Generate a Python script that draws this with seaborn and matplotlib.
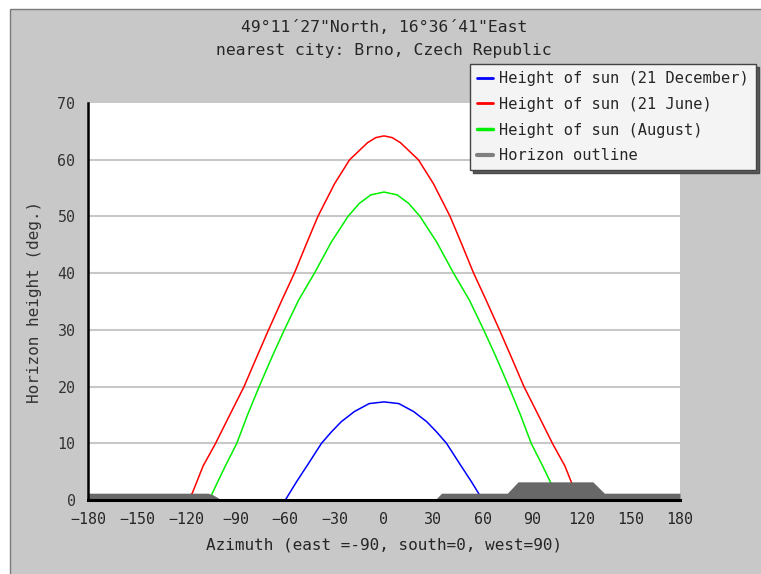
import matplotlib
matplotlib.use("Agg")
import matplotlib.pyplot as plt
from matplotlib.patches import Rectangle
from matplotlib.lines import Line2D
from matplotlib.ticker import MultipleLocator
import seaborn as sns
import pandas as pd

# ---- data ----
june_az = [-120, -116.6, -110, -102.4, -95, -85.1, -78, -70.2, -62, -54.5, -47, -40.2, -30, -20.9, -10, -5, 0,
           5, 10, 20.9, 30, 40.2, 47, 54.5, 62, 70.2, 78, 85.1, 95, 102.4, 110, 116.6, 120]
june_el = [0, 1.2, 6.0, 10, 14.3, 20, 24.8, 30, 35.3, 40, 45.3, 50, 55.8, 60, 63.0, 63.9, 64.2,
           63.9, 63.0, 60, 55.8, 50, 45.3, 40, 35.3, 30, 24.8, 20, 14.3, 10, 6.0, 1.2, 0]

aug_az = [-106, -104.4, -97, -89.5, -83, -75.9, -68, -60.6, -52, -42.3, -32, -21.9, -15, -8, 0,
          8, 15, 21.9, 32, 42.3, 52, 60.6, 68, 75.9, 83, 89.5, 97, 104.4, 106]
aug_el = [0, 1.2, 5.7, 10, 15, 20, 25.3, 30, 35.2, 40, 45.5, 50, 52.3, 53.8, 54.3,
          53.8, 52.3, 50, 45.5, 40, 35.2, 30, 25.3, 20, 15, 10, 5.7, 1.2, 0]

dec_az = [-60, -53, -46, -38, -32, -26, -18, -9, 0, 9, 18, 26, 32, 38, 46, 53, 60]
dec_el = [0, 3.3, 6.4, 10, 12, 13.8, 15.6, 17.0, 17.3, 17.0, 15.6, 13.8, 12, 10, 6.4, 3.3, 0]

hor_az = [-180, -107, -104, -101, -99, 31, 35, 75, 81.5, 127, 134, 180]
hor_el = [1.2, 1.2, 0.9, 0.4, 0, 0, 1.2, 1.2, 3.2, 3.2, 1.2, 1.2]

series_labels = ["Height of sun (21 December)", "Height of sun (21 June)",
                 "Height of sun (August)", "Horizon outline"]
x_ticks = [-180, -150, -120, -90, -60, -30, 0, 30, 60, 90, 120, 150, 180]
y_ticks = [0, 10, 20, 30, 40, 50, 60, 70]
title_lines = ["49°11´27\"North, 16°36´41\"East", "nearest city: Brno, Czech Republic"]
x_label = "Azimuth (east =-90, south=0, west=90)"
y_label = "Horizon height (deg.)"

# ---- style ----
sns.set_style("white")
plt.rcParams["font.family"] = ["DejaVu Sans Mono", "DejaVu Sans"]

W, H = 761, 574
fig = plt.figure(figsize=(W / 100, H / 100), dpi=100)
fig.patch.set_facecolor("white")
bg = Rectangle((10 / W, -0.01), 1.0, (H - 9) / H + 0.01, transform=fig.transFigure,
               facecolor="#c8c8c8", edgecolor="#7a7a7a", lw=1.0, zorder=-10)
fig.add_artist(bg)

ax = fig.add_axes([88 / W, (H - 500) / H, (680 - 88) / W, (500 - 103) / H])
ax.set_facecolor("white")
ax.set_axisbelow(False)

df_dec = pd.DataFrame({"az": dec_az, "el": dec_el})
df_jun = pd.DataFrame({"az": june_az, "el": june_el})
df_aug = pd.DataFrame({"az": aug_az, "el": aug_el})

sns.lineplot(data=df_dec, x="az", y="el", color="#0000ff", lw=1.1, sort=False, estimator=None, ax=ax, zorder=2)
sns.lineplot(data=df_jun, x="az", y="el", color="#ff0000", lw=1.1, sort=False, estimator=None, ax=ax, zorder=2)
sns.lineplot(data=df_aug, x="az", y="el", color="#00ee00", lw=1.1, sort=False, estimator=None, ax=ax, zorder=2)
ax.fill_between(hor_az, 0, hor_el, color="#686868", lw=0, zorder=2.3)

ax.set_xlim(-180, 180)
ax.set_ylim(0, 70)
ax.set_xticks(x_ticks)
ax.set_yticks(y_ticks)
ax.yaxis.set_minor_locator(MultipleLocator(5))
ax.set_xticklabels([str(t).replace("-", "\u2212") for t in x_ticks])
ax.set_yticklabels([str(t) for t in y_ticks])
for t in y_ticks[1:-1]:
    ax.axhline(t, color="#c8c8c8", lw=1.5, zorder=1)

for s in ["top", "right"]:
    ax.spines[s].set_visible(False)
ax.spines["left"].set_color("black")
ax.spines["left"].set_linewidth(1.8)
ax.spines["bottom"].set_color("black")
ax.spines["bottom"].set_linewidth(2.2)
ax.spines["bottom"].set_zorder(5)

ax.tick_params(axis="x", which="major", direction="in", length=7, width=1.8, color="black",
               labelsize=10.8, pad=9)
ax.tick_params(axis="y", which="major", direction="in", length=6, width=1.5, color="black",
               labelsize=10.8, pad=9)
ax.tick_params(axis="y", which="minor", direction="in", length=5, width=1.5, color="black")
for lab in ax.get_yticklabels():
    lab.set_color("#333333")

ax.set_xlabel(x_label, fontsize=11.5, labelpad=7)
ax.set_ylabel(y_label, fontsize=11.5, labelpad=11, color="#333333")

fig.text(384 / W, 1 - 27 / H, title_lines[0], ha="center", va="center", fontsize=11.8)
fig.text(384 / W, 1 - 51 / H, title_lines[1], ha="center", va="center", fontsize=11.8)

handles = [Line2D([], [], color="#0000ff", lw=2),
           Line2D([], [], color="#ff0000", lw=2),
           Line2D([], [], color="#00ee00", lw=2.5),
           Line2D([], [], color="#808080", lw=3)]
leg = fig.legend(handles, series_labels, loc="upper left",
                 bbox_to_anchor=(470 / W, 1 - 64 / H), bbox_transform=fig.transFigure,
                 fontsize=11.1, frameon=True, fancybox=False, framealpha=1,
                 facecolor="#f4f4f4", edgecolor="#444444",
                 handlelength=1.05, handletextpad=0.4, labelspacing=0.7,
                 borderpad=0.45, borderaxespad=0,
                 shadow={"facecolor": "#5a5a5a", "alpha": 1})
leg.get_frame().set_linewidth(1.0)

fig.savefig("out.png", dpi=100)
